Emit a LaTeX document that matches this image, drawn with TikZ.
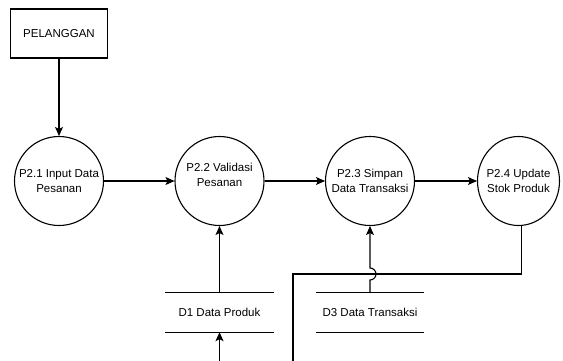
\documentclass[tikz,border=0pt]{standalone}
\usepackage{fontspec}
\setmainfont{Liberation Sans}
\usetikzlibrary{arrows.meta,shapes.geometric,calc}
\begin{document}
\begin{tikzpicture}[x=1pt,y=-1pt,
  every node/.style={font=\fontsize{11.5}{15}\selectfont},
  proc/.style={draw,circle,minimum size=89pt,inner sep=0pt,align=center,line width=1.1pt},
  ent/.style={draw,minimum width=97pt,minimum height=49pt,line width=1.1pt},
  store/.style={minimum width=108pt,minimum height=39pt,inner sep=0pt},
  ln/.style={line width=1.1pt},
  flow/.style={ln,-{Stealth[length=9pt,width=8pt,inset=2pt]}}]
\useasboundingbox (0,0) rectangle (563,360);

\node[ent] (cust) at (59,33.5) {PELANGGAN};
\node[proc] (p1) at (59,181) {P2.1 Input Data\\Pesanan};
\node[proc] (p2) at (219.5,181) {};
\node[align=center] (p2t) at (219.5,174.5) {P2.2 Validasi\\Pesanan};
\node[proc] (p3) at (370,181) {P2.3 Simpan\\Data Transaksi};
\node[draw,ellipse,minimum width=82pt,minimum height=89pt,inner sep=0pt,line width=1.1pt] (p4) at (518.5,181) {};
\node[align=center] (p4t) at (518.5,181) {P2.4 Update\\Stok Produk};

\node[store] (d1) at (219.5,312.5) {D1 Data Produk};
\node[store] (d3) at (370,312.5) {D3 Data Transaksi};
\draw[ln] (d1.north west) -- (d1.north east) (d1.south west) -- (d1.south east);
\draw[ln] (d3.north west) -- (d3.north east) (d3.south west) -- (d3.south east);

\draw[flow] (cust) -- (p1);
\draw[flow] (p1) -- (p2);
\draw[flow] (p2) -- (p3);
\draw[flow] (p3) -- (p4);
\draw[flow] (d1.north) -- (p2.south);
\coordinate (b1) at (219.5,362);
\draw[flow] (b1) -- (d1.south);
\coordinate (j) at (370,280);
\draw[flow] (d3.north) -- (j) arc[start angle=90,end angle=-90,radius=6] -- (p3.south);
\coordinate (k) at (293,274);
\coordinate (e) at (293,362);
\draw[ln] ($(p4.south)+(3,0)$) |- (k) -- (e);
\end{tikzpicture}
\end{document}
